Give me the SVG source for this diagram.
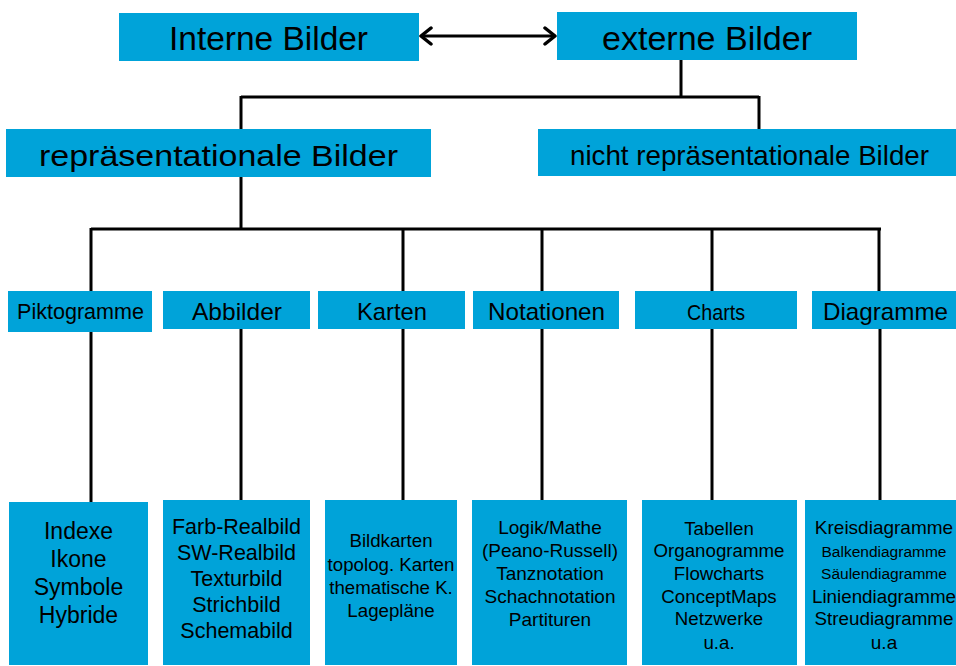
<svg xmlns="http://www.w3.org/2000/svg" width="956" height="666" viewBox="0 0 956 666">
<style>
.box{fill:#00A3D9}
text{font-family:"Liberation Sans",Arial,sans-serif;fill:#000;text-anchor:middle}
.ln{stroke:#000;stroke-width:3;fill:none}
</style>
<defs>
<marker id="ah" viewBox="0 0 14 20" refX="12" refY="10" markerWidth="14" markerHeight="20" markerUnits="userSpaceOnUse" orient="auto-start-reverse">
<path d="M2,2 L12,10 L2,18" fill="none" stroke="#000" stroke-width="3.5" stroke-linecap="round" stroke-linejoin="round"/>
</marker>
</defs>
<rect width="956" height="666" fill="#fff"/>
<g id="connectors">
<line class="ln" x1="421" y1="36" x2="555" y2="36" marker-start="url(#ah)" marker-end="url(#ah)"/>
<path class="ln" d="M681,60 V97 M241,97 H759 M241,96 V129 M759,96 V129"/>
<path class="ln" d="M241,177 V229 M91,229 H881 M91,228 V291 M403,229 V291 M542,229 V291 M712,229 V291 M879,228 V291"/>
<path class="ln" d="M91,332 V502 M241,329 V500 M403,329 V500 M542,329 V500 M712,329 V500 M880,329 V500"/>
</g>
<g id="interne"><rect class="box" x="119" y="13" width="300" height="48"/><text x="268.5" y="50" font-size="34" textLength="199" lengthAdjust="spacingAndGlyphs">Interne Bilder</text></g>
<g id="externe"><rect class="box" x="557" y="12" width="300" height="48"/><text x="707" y="50" font-size="34" textLength="210" lengthAdjust="spacingAndGlyphs">externe Bilder</text></g>
<g id="repr"><rect class="box" x="6" y="129" width="425" height="48"/><text x="218.5" y="165.5" font-size="30" textLength="359" lengthAdjust="spacingAndGlyphs">repräsentationale Bilder</text></g>
<g id="nichtrepr"><rect class="box" x="538" y="129" width="418" height="47"/><text x="749.5" y="165" font-size="28" textLength="359" lengthAdjust="spacingAndGlyphs">nicht repräsentationale Bilder</text></g>
<g id="piktogramme"><rect class="box" x="8" y="291" width="144" height="41"/><text x="80.5" y="319" font-size="21.5" textLength="127" lengthAdjust="spacingAndGlyphs">Piktogramme</text></g>
<g id="abbilder"><rect class="box" x="163" y="291" width="147" height="38"/><text x="237" y="320" font-size="24.5" textLength="90" lengthAdjust="spacingAndGlyphs">Abbilder</text></g>
<g id="karten"><rect class="box" x="318" y="291" width="147" height="38"/><text x="392" y="320" font-size="24" textLength="70" lengthAdjust="spacingAndGlyphs">Karten</text></g>
<g id="notationen"><rect class="box" x="473" y="291" width="146" height="38"/><text x="546.5" y="320" font-size="24" textLength="117" lengthAdjust="spacingAndGlyphs">Notationen</text></g>
<g id="charts"><rect class="box" x="635" y="291" width="162" height="38"/><text x="716" y="320" font-size="22" textLength="58" lengthAdjust="spacingAndGlyphs">Charts</text></g>
<g id="diagramme"><rect class="box" x="812" y="291" width="144" height="38"/><text x="885.5" y="320" font-size="24" textLength="125" lengthAdjust="spacingAndGlyphs">Diagramme</text></g>
<g id="b1"><rect class="box" x="9" y="502" width="139" height="163"/>
<text font-size="23"><tspan x="78.5" y="539">Indexe</tspan><tspan x="78.5" y="567">Ikone</tspan><tspan x="78.5" y="595">Symbole</tspan><tspan x="78.5" y="623">Hybride</tspan></text></g>
<g id="b2"><rect class="box" x="163" y="500" width="147" height="165"/>
<text font-size="21.5"><tspan x="236.5" y="534">Farb-Realbild</tspan><tspan x="236.5" y="560">SW-Realbild</tspan><tspan x="236.5" y="586">Texturbild</tspan><tspan x="236.5" y="612">Strichbild</tspan><tspan x="236.5" y="638">Schemabild</tspan></text></g>
<g id="b3"><rect class="box" x="325" y="500" width="132" height="165"/>
<text font-size="18.7"><tspan x="391" y="547">Bildkarten</tspan><tspan x="391" y="571">topolog. Karten</tspan><tspan x="391" y="594">thematische K.</tspan><tspan x="391" y="617">Lagepläne</tspan></text></g>
<g id="b4"><rect class="box" x="472" y="500" width="155" height="165"/>
<text font-size="19"><tspan x="550" y="534">Logik/Mathe</tspan><tspan x="550" y="557">(Peano-Russell)</tspan><tspan x="550" y="580">Tanznotation</tspan><tspan x="550" y="603">Schachnotation</tspan><tspan x="550" y="626">Partituren</tspan></text></g>
<g id="b5"><rect class="box" x="642" y="500" width="155" height="165"/>
<text font-size="18.7"><tspan x="719" y="535">Tabellen</tspan><tspan x="719" y="557">Organogramme</tspan><tspan x="719" y="580">Flowcharts</tspan><tspan x="719" y="603">ConceptMaps</tspan><tspan x="719" y="625">Netzwerke</tspan><tspan x="719" y="649">u.a.</tspan></text></g>
<g id="b6"><rect class="box" x="805" y="500" width="151" height="165"/>
<text font-size="19" x="884" y="534">Kreisdiagramme</text>
<text font-size="15.5" x="884" y="557">Balkendiagramme</text>
<text font-size="15.5" x="884" y="579">Säulendiagramme</text>
<text font-size="18.8" x="884" y="603">Liniendiagramme</text>
<text font-size="18.8" x="884" y="625">Streudiagramme</text>
<text font-size="19" x="884" y="649">u.a</text></g>
</svg>
